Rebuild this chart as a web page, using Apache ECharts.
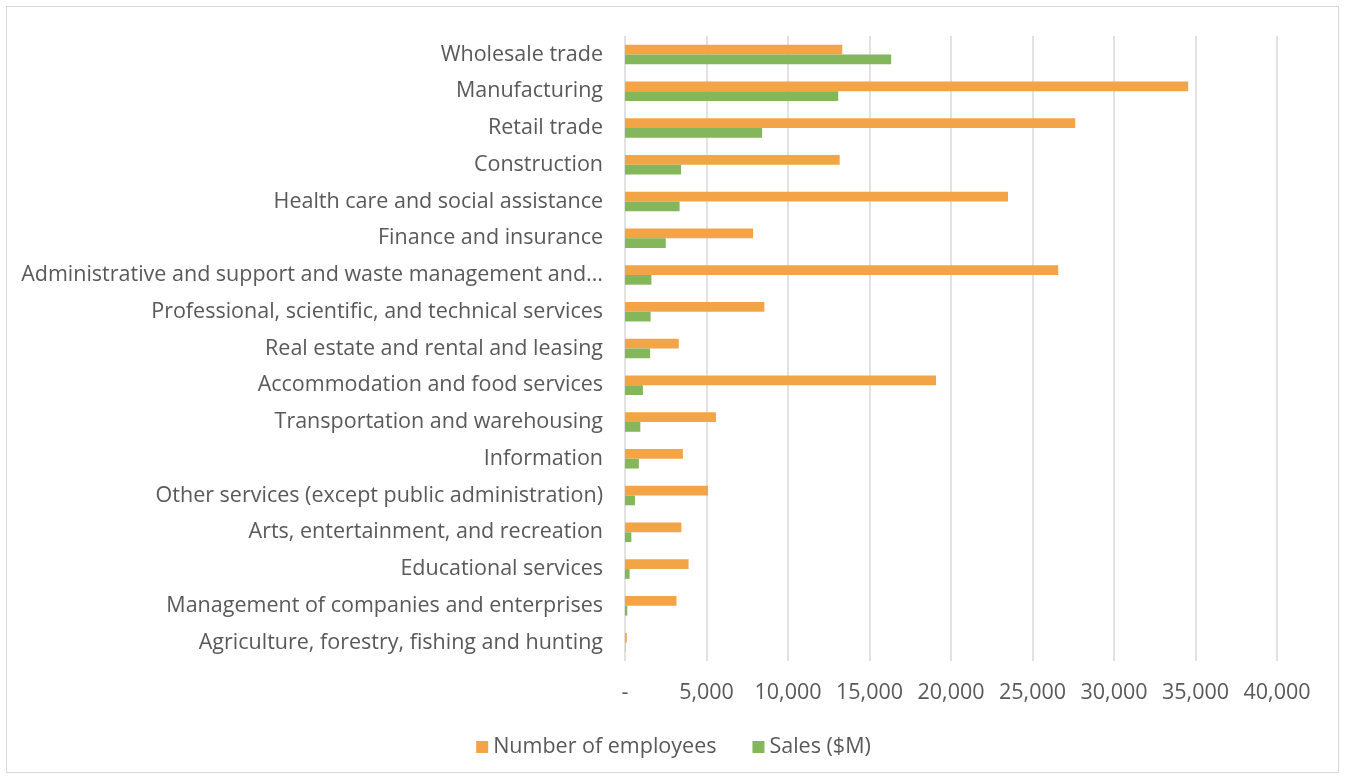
<!DOCTYPE html>
<html>
<head>
<meta charset="utf-8">
<script src="https://cdn.jsdelivr.net/npm/echarts@6/dist/echarts.min.js"></script>
<style>
html,body{margin:0;padding:0;background:#fff;}
#frame{position:absolute;left:6px;top:6px;width:1333px;height:767px;border:1.5px solid #d9d9d9;box-sizing:border-box;}
#chart{position:absolute;left:0;top:0;width:1347px;height:780px;}
</style>
</head>
<body>
<div id="frame"></div>
<div id="chart"></div>
<script>
const categories = [
  "Wholesale trade",
  "Manufacturing",
  "Retail trade",
  "Construction",
  "Health care and social assistance",
  "Finance and insurance",
  "Administrative and support and waste management and remediation services",
  "Professional, scientific, and technical services",
  "Real estate and rental and leasing",
  "Accommodation and food services",
  "Transportation and warehousing",
  "Information",
  "Other services (except public administration)",
  "Arts, entertainment, and recreation",
  "Educational services",
  "Management of companies and enterprises",
  "Agriculture, forestry, fishing and hunting"
];
const employees = [13330, 34550, 27620, 13170, 23500, 7860, 26580, 8550, 3300, 19080, 5580, 3550, 5090, 3460, 3900, 3160, 110];
const sales = [16330, 13080, 8410, 3440, 3350, 2500, 1620, 1570, 1540, 1100, 940, 850, 610, 390, 280, 140, 20];
const xTicks = { min: 0, max: 40000, interval: 5000 };
const seriesNames = ["Number of employees", "Sales ($M)"];

const txt = '#595959';
const font = 'Open Sans';
const fs = 21.5;
const maxChars = 51;
const chart = echarts.init(document.getElementById('chart'));
chart.setOption({
  animation: false,
  textStyle: { fontFamily: font },
  grid: { left: 625, right: 70, top: 36, bottom: 119, containLabel: false },
  legend: {
    bottom: 17,
    left: 'center',
    itemWidth: 12,
    itemHeight: 12,
    itemGap: 36,
    icon: 'rect',
    textStyle: { color: txt, fontSize: fs, fontFamily: font },
    data: seriesNames
  },
  xAxis: {
    type: 'value',
    min: xTicks.min, max: xTicks.max, interval: xTicks.interval,
    axisLine: { show: false },
    axisTick: { show: false },
    splitLine: { lineStyle: { color: '#d9d9d9', width: 1.5 } },
    axisLabel: {
      color: txt, fontSize: fs, margin: 21, fontFamily: font,
      formatter: v => v === 0 ? '-' : v.toLocaleString('en-US')
    }
  },
  yAxis: {
    type: 'category',
    inverse: true,
    data: categories,
    axisLine: { show: false },
    axisTick: { show: false },
    axisLabel: {
      color: txt, fontSize: fs, margin: 22, fontFamily: font,
      formatter: s => s.length > maxChars + 3 ? s.slice(0, maxChars).trimEnd() + '...' : s
    }
  },
  series: [
    { name: seriesNames[0], type: 'bar', data: employees, barGap: '0%', barCategoryGap: '47%',
      itemStyle: { color: '#F3A447' } },
    { name: seriesNames[1], type: 'bar', data: sales, barGap: '0%', barCategoryGap: '47%',
      itemStyle: { color: '#84B65B' } }
  ]
});
</script>
</body>
</html>
